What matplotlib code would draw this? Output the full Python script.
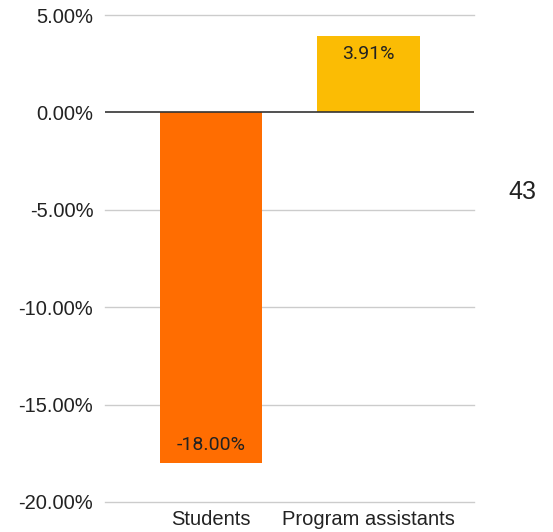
import matplotlib.pyplot as plt
from matplotlib.ticker import FuncFormatter

# data
categories = ["Students", "Program assistants"]
values = [-18.00, 3.91]
bar_colors = ["#FF6D01", "#FBBC04"]
yticks = [-20, -15, -10, -5, 0, 5]

fig = plt.figure(figsize=(5.53, 5.32), dpi=100)
ax = fig.add_axes([0.190, 0.0564, 0.667, 0.9154])

x = list(range(len(categories)))
bars = ax.bar(x, values, width=0.65, color=bar_colors, zorder=3)

ax.set_ylim(-20, 5)
ax.set_xlim(-0.673, 1.67)
ax.set_yticks(yticks)
ax.yaxis.set_major_formatter(FuncFormatter(lambda v, p: "%.2f%%" % v))
ax.set_xticks(x)
ax.set_xticklabels(categories)

# grid
for t in yticks:
    if t != 0:
        ax.axhline(t, color="#cccccc", linewidth=1, zorder=0, clip_on=False)
ax.axhline(0, color="#333333", linewidth=1.2, zorder=4)

for s in ax.spines.values():
    s.set_visible(False)
ax.tick_params(length=0)
ax.tick_params(axis="y", pad=8.5, labelsize=14.5, labelcolor="#222222")
ax.tick_params(axis="x", pad=6, labelsize=14.5, labelcolor="#222222")
for lab in ax.get_yticklabels() + ax.get_xticklabels():
    lab.set_family("Liberation Sans")

# value labels inside bars
for b, v in zip(bars, values):
    off = -18 if v >= 0 else 18
    ax.annotate("%.2f%%" % v, (b.get_x() + b.get_width() / 2, v),
                xytext=(0, off), textcoords="offset pixels",
                ha="center", va="center", fontsize=14,
                family="Roboto", color="#222222", zorder=5)

fig.text(522 / 553, 1 - 192 / 532, "43", ha="center", va="center",
         fontsize=18, family="Liberation Sans", color="#222222")

fig.savefig("out.png", dpi=100)
